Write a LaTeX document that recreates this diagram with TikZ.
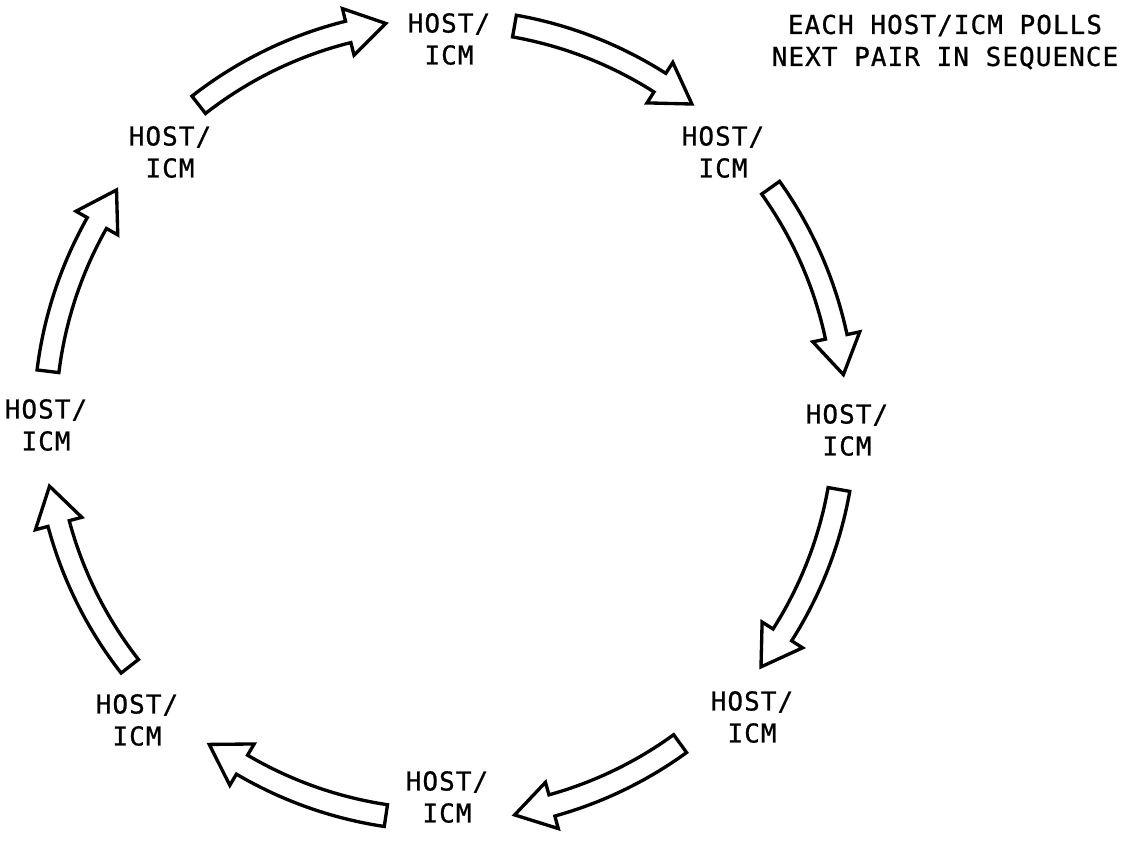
\documentclass[tikz,border=0pt]{standalone}
\usepackage{fontspec}
\usetikzlibrary{calc}
\newfontfamily\labelfont[LetterSpace=4,FakeBold=0.8]{DejaVu Sans Mono}

% hollow block arrow bent along the ring: #1 = tail angle, #2 = tip angle
\newcommand\ringarrow[2]{%
  \draw[blockarrow]
    ($(hub)+(#1:411)$) arc[start angle=#1, end angle={#2+5.5}, radius=411]
    -- ($(hub)+({#2+5.5}:424)$)
    -- ($(hub)+(#2:401)$)
    -- ($(hub)+({#2+5.5}:376)$)
    -- ($(hub)+({#2+5.5}:389)$)
    arc[start angle={#2+5.5}, end angle=#1, radius=389]
    -- cycle;}

\begin{document}
\begin{tikzpicture}[x=0.75pt,y=0.75pt,
  station/.style={font=\labelfont\fontsize{19.5}{24}\selectfont, align=center, inner sep=0pt},
  blockarrow/.style={draw=black, line width=2.5pt, fill=white, line join=miter}]
\useasboundingbox (0,0) rectangle (1132,-840);

\coordinate (hub) at (445,-420);

% stations around the ring
\node[station] (top) at (449,-39)  {HOST/\\ICM};
\node[station] (ur)  at (723,-152) {HOST/\\ICM};
\node[station] (rt)  at (847,-430) {HOST/\\ICM};
\node[station] (lr)  at (752,-717) {HOST/\\ICM};
\node[station] (bot) at (447,-797) {HOST/\\ICM};
\node[station] (ll)  at (137,-720) {HOST/\\ICM};
\node[station] (lf)  at (46,-425)  {HOST/\\ICM};
\node[station] (ul)  at (170,-152) {HOST/\\ICM};

% note
\node[station] (note) at (945,-42)
  {EACH HOST/ICM POLLS\\NEXT PAIR IN SEQUENCE};

% polling sequence, clockwise
\ringarrow{128}{98.5}
\ringarrow{80}{52}
\ringarrow{35.5}{6.5}
\ringarrow{-10}{-38}
\ringarrow{-54}{-80}
\ringarrow{-98.5}{-126}
\ringarrow{-142}{-170.5}
\ringarrow{173}{145}
\end{tikzpicture}
\end{document}
